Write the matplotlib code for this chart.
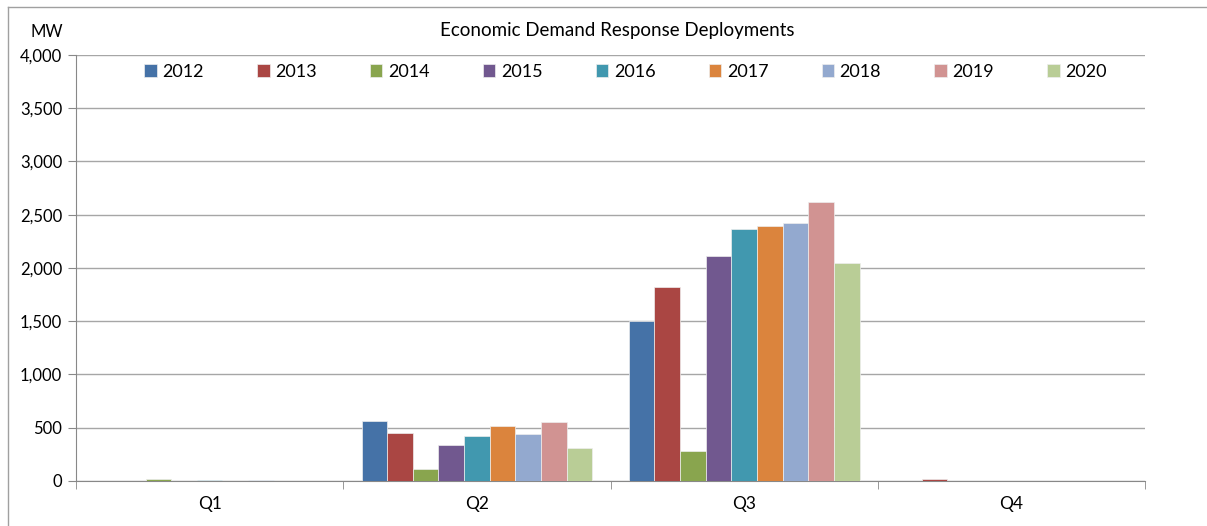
import matplotlib
matplotlib.use("Agg")
import matplotlib.pyplot as plt
from matplotlib.lines import Line2D
import numpy as np

plt.rcParams["font.family"] = ["Lato", "DejaVu Sans"]

quarters = ["Q1", "Q2", "Q3", "Q4"]
years = ["2012", "2013", "2014", "2015", "2016", "2017", "2018", "2019", "2020"]
colors = ["#4572A7", "#AA4643", "#89A54E", "#71588F", "#4198AF",
          "#DB843D", "#93A9CF", "#D19392", "#B9CD96"]

# MW deployed per quarter, one list per year (Q1..Q4)
mw_2012 = [0, 567, 1500, 0]
mw_2013 = [0, 451, 1826, 15]
mw_2014 = [20, 110, 280, 0]
mw_2015 = [0, 338, 2115, 0]
mw_2016 = [12, 423, 2368, 0]
mw_2017 = [0, 517, 2390, 0]
mw_2018 = [10, 442, 2422, 0]
mw_2019 = [0, 557, 2622, 0]
mw_2020 = [0, 310, 2042, 0]
series = [mw_2012, mw_2013, mw_2014, mw_2015, mw_2016,
          mw_2017, mw_2018, mw_2019, mw_2020]

fig = plt.figure(figsize=(12.07, 5.26), dpi=100)
ax = fig.add_axes([0.063, 0.0856, 0.8857, 0.8099])

x = np.arange(len(quarters))
w = 0.0959
for i, (yr, vals, c) in enumerate(zip(years, series, colors)):
    ax.bar(x + (i - 4) * w, vals, width=w, color=c, edgecolor="#eeeeee",
           linewidth=0.5, label=yr, zorder=3)

ax.set_xlim(-0.5, 3.5)
ax.set_ylim(0, 4000)
ax.set_yticks(range(0, 4001, 500))
ax.set_yticklabels([f"{v:,}" for v in range(0, 4001, 500)], fontsize=12)
ax.set_xticks(x)
ax.set_xticklabels(quarters, fontsize=12.5)
ax.set_xticks(np.arange(-0.5, 3.6, 1), minor=True)
ax.tick_params(axis="x", which="major", length=0, pad=11)
ax.tick_params(axis="x", which="minor", length=6, color="#888888")
ax.tick_params(axis="y", length=6, color="#888888", pad=4)
ax.grid(axis="y", color="#a6a6a6", linewidth=1, zorder=0)
for side in ["top", "right"]:
    ax.spines[side].set_visible(False)
for side in ["left", "bottom"]:
    ax.spines[side].set_color("#888888")

ax.legend(loc="center", bbox_to_anchor=(0.514, 0.96), ncol=9, frameon=False,
          fontsize=13, handlelength=0.7, handleheight=0.7,
          handletextpad=0.3, columnspacing=2.95)

fig.text(0.511, 0.942, "Economic Demand Response Deployments",
         ha="center", va="center", fontsize=13.5)
fig.text(0.039, 0.94, "MW", ha="center", va="center", fontsize=12)

# outer chart frame (top and left edges)
fig.add_artist(Line2D([0.0066, 1.0], [0.987, 0.987], color="#a0a0a0", lw=1))
fig.add_artist(Line2D([0.0066, 0.0066], [0.0, 0.987], color="#a0a0a0", lw=1))

fig.savefig("out.png", dpi=100)
